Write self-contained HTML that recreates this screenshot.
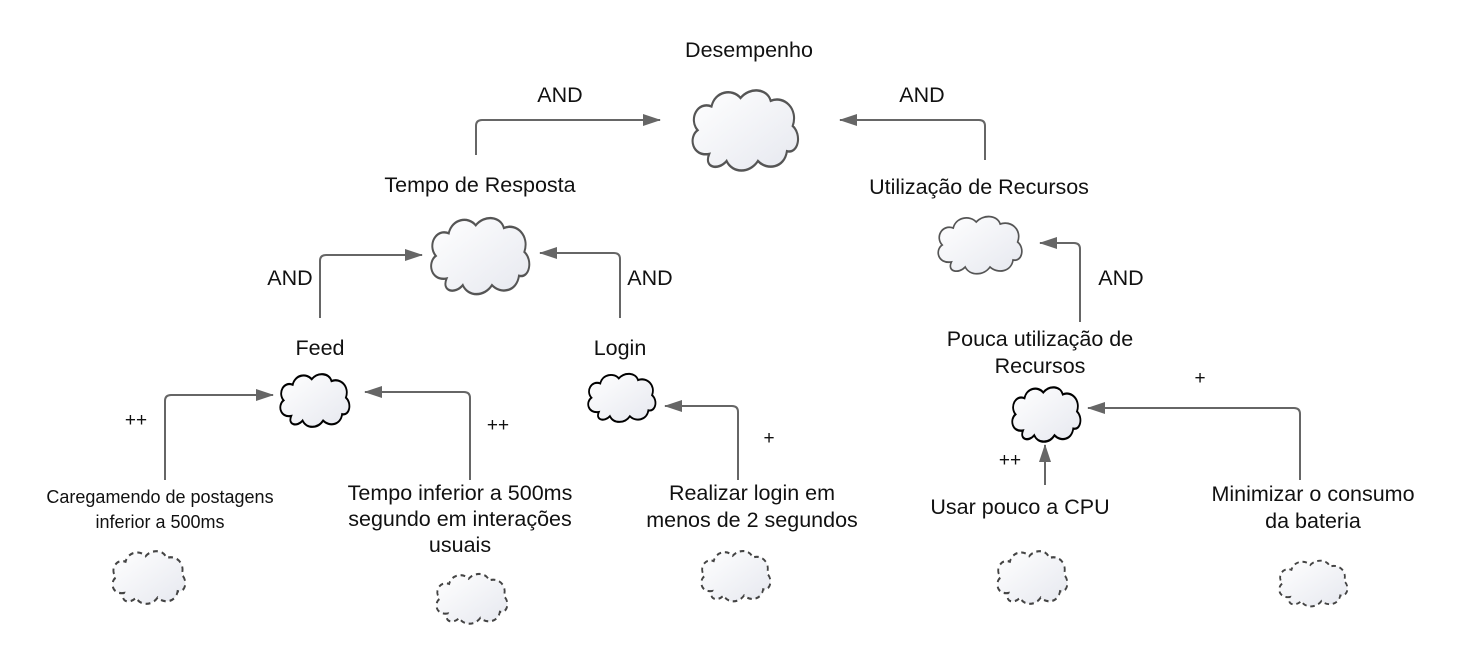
<!DOCTYPE html>
<html><head><meta charset="utf-8"><style>
body{margin:0;background:#fff;}
svg{display:block;font-family:"Liberation Sans",Arial,sans-serif;}
</style></head><body>
<svg width="1460" height="664" viewBox="0 0 1460 664" xmlns="http://www.w3.org/2000/svg">
<defs>
<linearGradient id="g" x1="0" y1="0" x2="1" y2="1"><stop offset="0" stop-color="#ffffff"/><stop offset="1" stop-color="#e6e8ef"/></linearGradient>
<path id="c" d="M20,50 C5,52 2,38 10,33 C2,25 10,12 22,16 C25,5 40,3 47,10 C55,2 70,3 73,12 C85,8 97,18 92,30 C100,36 97,50 87,48 C85,60 70,62 62,55 C55,64 40,64 35,55 C28,62 15,60 20,50 Z"/>
<marker id="a" markerWidth="18" markerHeight="14" refX="17" refY="7" orient="auto" markerUnits="userSpaceOnUse" viewBox="0 0 18 14"><path d="M0,1 L18,7 L0,13 Z" fill="#666"/></marker>
</defs>
<g fill="url(#g)" stroke="#555" stroke-width="1.8">
<use href="#c" transform="translate(686,84) scale(1.16,1.4)"/>
<use href="#c" transform="translate(425,212) scale(1.08,1.33)"/>
<use href="#c" transform="translate(933,212) scale(0.92,1.0)"/>
<use href="#c" transform="translate(276,370) scale(0.76,0.92)" stroke="#000" stroke-width="2.4"/>
<use href="#c" transform="translate(584,370) scale(0.74,0.84)" stroke="#000" stroke-width="2.4"/>
<use href="#c" transform="translate(1008,383) scale(0.75,0.95)" stroke="#000" stroke-width="2.4"/>
</g>
<g fill="url(#g)" stroke="#444" stroke-width="2.4" stroke-dasharray="6,5">
<use href="#c" transform="translate(108,547) scale(0.8,0.92)"/>
<use href="#c" transform="translate(432,570) scale(0.78,0.87)"/>
<use href="#c" transform="translate(697,547) scale(0.76,0.88)"/>
<use href="#c" transform="translate(993,547) scale(0.77,0.92)"/>
<use href="#c" transform="translate(1275,557) scale(0.75,0.8)"/>
</g>
<g fill="none" stroke="#666" stroke-width="2" marker-end="url(#a)">
<path d="M476,155 V126 Q476,120 482,120 H660"/>
<path d="M985,160 V126 Q985,120 979,120 H840"/>
<path d="M320,318 V261 Q320,255 326,255 H422"/>
<path d="M620,318 V259 Q620,253 614,253 H540"/>
<path d="M1080,322 V249 Q1080,243 1074,243 H1040"/>
<path d="M165,480 V401 Q165,395 171,395 H273"/>
<path d="M470,480 V398 Q470,392 464,392 H365"/>
<path d="M738,480 V412 Q738,406 732,406 H665"/>
<path d="M1045,485 V445"/>
<path d="M1300,480 V414 Q1300,408 1294,408 H1088"/>
</g>
<g font-size="21.5" fill="#111" text-anchor="middle">
<text x="749" y="57">Desempenho</text>
<text x="560" y="102">AND</text>
<text x="922" y="102">AND</text>
<text x="480" y="192">Tempo de Resposta</text>
<text x="979" y="194">Utilização de Recursos</text>
<text x="290" y="285">AND</text>
<text x="650" y="285">AND</text>
<text x="1121" y="285">AND</text>
<text x="320" y="355">Feed</text>
<text x="620" y="355">Login</text>
<text x="1040" y="346">Pouca utilização de</text>
<text x="1040" y="373">Recursos</text>
<text x="1200" y="384" font-size="19">+</text>
<text x="136" y="426" font-size="19">++</text>
<text x="498" y="431" font-size="19">++</text>
<text x="769" y="444" font-size="19">+</text>
<text x="1010" y="466" font-size="19">++</text>
<text x="160" y="503" font-size="18">Caregamendo de postagens</text>
<text x="160" y="528" font-size="18">inferior a 500ms</text>
<text x="460" y="500">Tempo inferior a 500ms</text>
<text x="460" y="526">segundo em interações</text>
<text x="460" y="552">usuais</text>
<text x="752" y="500">Realizar login em</text>
<text x="752" y="527">menos de 2 segundos</text>
<text x="1020" y="514">Usar pouco a CPU</text>
<text x="1313" y="501">Minimizar o consumo</text>
<text x="1313" y="528">da bateria</text>
</g>
</svg>
</body></html>
